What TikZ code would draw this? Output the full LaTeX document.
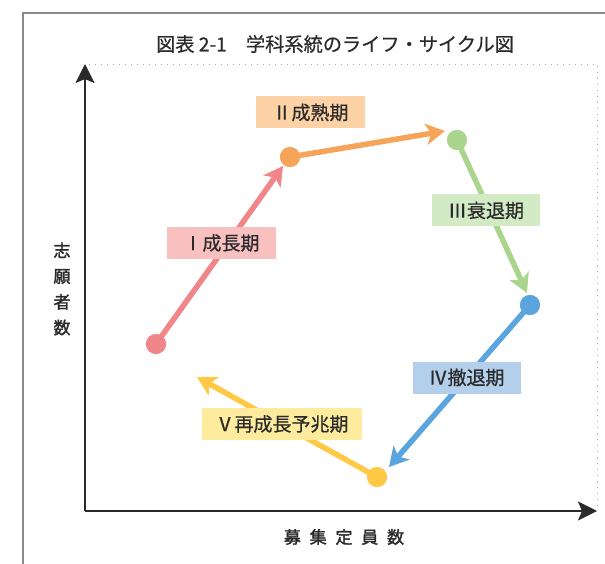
\documentclass[tikz,border=0pt]{standalone}
\usepackage{fontspec}
\setmainfont{Noto Sans CJK JP}
\newfontfamily\medfont[FakeBold=0.6]{Noto Sans CJK JP}
\newfontfamily\headfont[FakeBold=1.8]{Noto Sans CJK JP}
\usetikzlibrary{arrows.meta}
\definecolor{lred}{HTML}{F0868A}
\definecolor{bred}{HTML}{F9C0C0}
\definecolor{lorange}{HTML}{F5A45A}
\definecolor{borange}{HTML}{FDD2A6}
\definecolor{lgreen}{HTML}{A9D58C}
\definecolor{bgreen}{HTML}{D3EBC5}
\definecolor{lblue}{HTML}{5BA5DE}
\definecolor{bblue}{HTML}{B3CFEC}
\definecolor{lyellow}{HTML}{FFC845}
\definecolor{byellow}{HTML}{FFEB9E}
\definecolor{framegray}{HTML}{8A8A8A}
\definecolor{txt}{HTML}{2A2A2A}
\begin{document}
\begin{tikzpicture}[x=1pt,y=-1pt,
  dot/.style={circle, fill=#1, draw=none, inner sep=0pt, minimum size=20pt},
  flow/.style={draw=#1, line width=5.5pt, -{Stealth[length=19pt,width=21pt,inset=5pt]}},
  lab/.style={fill=#1, inner sep=0pt, minimum height=32pt, text=txt,
    font=\medfont\fontsize{19}{19}\selectfont},
  axis/.style={draw=txt, line width=2pt, -{Stealth[length=19pt,width=19pt,inset=4pt]}},
  dots/.style={draw=gray!70, line width=1pt, dash pattern=on 1pt off 5pt}
]
\useasboundingbox (0,0) rectangle (605,564);
% frame
\draw[framegray, line width=1.6pt] (23,564) -- (23,13) -- (605,13);
% title
\node[font=\medfont\fontsize{19.2}{19.2}\selectfont, text=txt] (title) at (335,44) {図表 2-1　学科系統のライフ・サイクル図};
% axes
\coordinate (O) at (85,511);
\coordinate (ytop) at (85,64);
\coordinate (xend) at (597,511);
\draw[dots] (89,64.5) -- (597,64.5) -- (597,505);
\draw[axis] (O) -- (ytop);
\draw[axis] (85,511) -- (xend);
\node[font=\headfont\fontsize{17}{25.7}\selectfont, text=txt, align=center] (ylab) at (62,289) {志\\願\\者\\数};
\node[font=\headfont\fontsize{17}{17}\selectfont, text=txt] (xlab) at (344,537) {募\hspace{8.8pt}集\hspace{8.8pt}定\hspace{8.8pt}員\hspace{8.8pt}数};
% points
\node[dot=lred] (p1) at (156,344) {};
\node[dot=lorange] (p2) at (290,157) {};
\node[dot=lgreen] (p3) at (457,140) {};
\node[dot=lblue] (p4) at (530,305) {};
\node[dot=lyellow] (p5) at (377,477) {};
\coordinate (t1) at (283,166);
\coordinate (t2) at (445,131);
\coordinate (t3) at (527,293);
\coordinate (t4) at (389,467);
\coordinate (t5) at (197,377);
% arrows
\draw[flow=lred] (p1.center) -- (t1);
\draw[flow=lorange] (p2.center) -- (t2);
\draw[flow=lgreen] (p3.center) -- (t3);
\draw[flow=lblue] (p4.center) -- (t4);
\draw[flow=lyellow] (p5.center) -- (t5);
% redraw dots on top
\node[dot=lred] at (p1) {};
\node[dot=lorange] at (p2) {};
\node[dot=lgreen] at (p3) {};
\node[dot=lblue] at (p4) {};
\node[dot=lyellow] at (p5) {};
% labels
\node[lab=bred, minimum width=109pt] (l1) at (221.5,243) {Ⅰ成長期};
\node[lab=borange, minimum width=109pt] (l2) at (310.5,112.5) {Ⅱ成熟期};
\node[lab=bgreen, minimum width=108pt] (l3) at (486,210.5) {Ⅲ衰退期};
\node[lab=bblue, minimum width=108pt] (l4) at (466.5,377.5) {Ⅳ撤退期};
\node[lab=byellow, minimum width=160pt] (l5) at (282,424) {Ⅴ再成長予兆期};
\end{tikzpicture}
\end{document}
